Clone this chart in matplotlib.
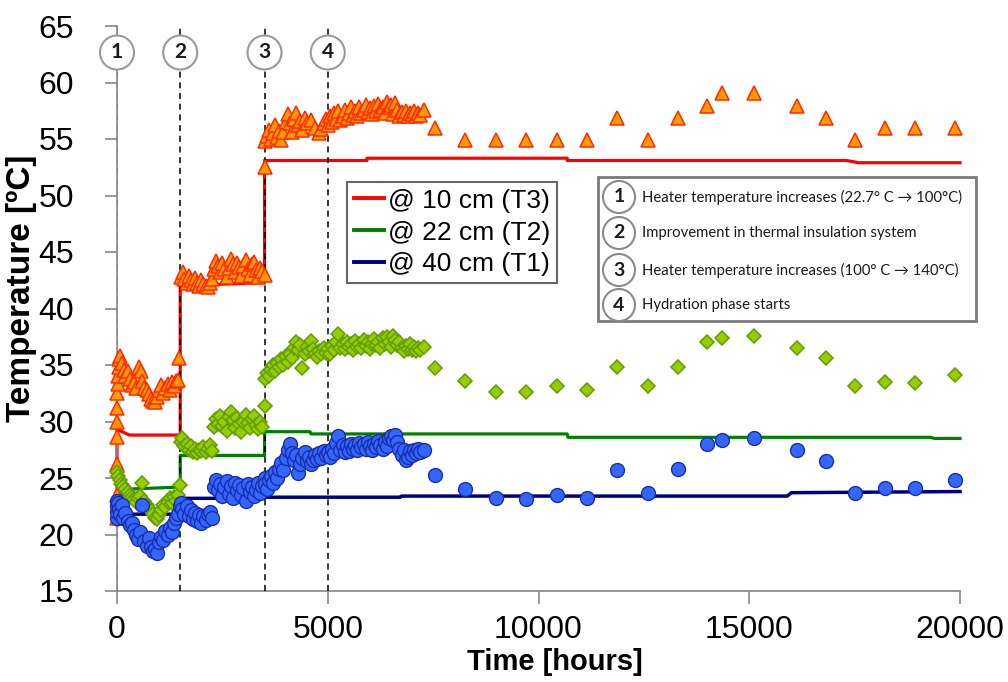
import matplotlib
matplotlib.use("Agg")
import matplotlib.pyplot as plt
from matplotlib.patches import Circle, Rectangle
from matplotlib.lines import Line2D

plt.rcParams['font.family'] = ['Liberation Sans', 'DejaVu Sans']

W, H, DPI = 1008, 682, 100

# ---------------- data ----------------
EVENT_HOURS = [0, 1500, 3500, 5000]
EVENT_NUMS = ["1", "2", "3", "4"]
EVENT_TEXTS = ["Heater temperature increases (22.7° C \u2192 100°C)",
               "Improvement in thermal insulation system",
               "Heater temperature increases (100° C \u2192 140°C)",
               "Hydration phase starts"]
LEGEND_LABELS = ["@ 10 cm (T3)", "@ 22 cm (T2)", "@ 40 cm (T1)"]
X_TICKS = [0, 5000, 10000, 15000, 20000]
Y_TICKS = [15, 20, 25, 30, 35, 40, 45, 50, 55, 60, 65]

# continuous sensor lines
T3_LINE_H = [0, 0, 300, 1500, 1500, 3500, 3500, 5930, 5930, 10680, 10680, 17300, 17600, 20000]
T3_LINE_V = [20.8, 29.3, 28.8, 28.8, 42.0, 42.3, 53.1, 53.1, 53.3, 53.3, 53.1, 53.1, 52.9, 52.9]
T2_LINE_H = [0, 150, 1500, 1500, 3500, 3500, 4580, 4600, 10680, 10700, 19290, 19400, 20000]
T2_LINE_V = [22.5, 24.0, 24.2, 27.0, 27.0, 29.1, 29.1, 28.9, 28.9, 28.6, 28.6, 28.5, 28.5]
T1_LINE_H = [0, 1500, 1500, 3500, 3500, 6720, 6750, 15900, 16000, 20000]
T1_LINE_V = [21.8, 21.8, 23.2, 23.2, 23.3, 23.3, 23.4, 23.4, 23.7, 23.8]

# measured points (hours, temperature)
T3_POINTS = [
    (0, 21.5), (0, 23.5), (0, 26.2), (0, 28.6), (0, 30.0), (0, 31.2), (10, 32.5), (20, 33.3), (30, 34.0),
    (40, 34.8), (50, 35.5), (80, 35.8), (120, 35.2), (160, 34.6), (200, 34.0), (250, 34.5), (300, 33.8),
    (350, 33.2), (400, 33.5), (450, 33.0), (520, 34.8), (560, 34.5), (600, 33.6), (650, 33.0), (700, 32.8),
    (750, 32.4), (800, 32.0), (850, 31.8), (900, 31.7), (950, 32.2), (1000, 32.8), (1050, 33.2), (1100, 32.5),
    (1150, 33.0), (1200, 33.3), (1250, 32.8), (1300, 33.5), (1350, 33.1), (1400, 33.6), (1450, 33.7),
    (1480, 35.6),
    (1520, 42.8), (1560, 43.2), (1600, 42.6), (1650, 42.3), (1700, 42.9), (1750, 42.5), (1800, 42.2),
    (1850, 42.7), (1900, 42.3), (1950, 42.0), (2000, 42.5), (2050, 42.2), (2100, 42.0), (2150, 41.9),
    (2200, 42.3), (2250, 42.6), (2300, 43.5), (2350, 44.2), (2400, 43.8), (2450, 43.2), (2500, 44.0),
    (2550, 43.5), (2600, 42.8), (2650, 43.6), (2700, 44.4), (2750, 43.9), (2800, 43.2), (2850, 44.0),
    (2900, 43.7), (2950, 42.9), (3000, 43.8), (3050, 44.3), (3100, 43.5), (3150, 43.0), (3200, 43.9),
    (3250, 44.1), (3300, 43.4), (3350, 42.8), (3400, 43.6), (3450, 43.3), (3500, 43.0), (3510, 52.5),
    (3520, 54.8), (3560, 55.3), (3600, 55.8), (3650, 55.0), (3700, 55.5), (3750, 56.2), (3800, 55.2),
    (3850, 55.7), (3900, 54.9), (3950, 55.6), (4000, 56.5), (4050, 57.2), (4100, 56.4), (4150, 55.6),
    (4200, 56.8), (4250, 57.3), (4300, 56.2), (4350, 56.6), (4400, 55.8), (4450, 56.9), (4500, 56.4),
    (4600, 56.7), (4700, 56.0), (4800, 55.5), (4850, 55.9), (4900, 56.4), (4950, 56.8), (5000, 56.2),
    (5050, 57.0), (5100, 56.5), (5150, 57.3), (5200, 56.8), (5250, 57.5), (5300, 56.7), (5350, 57.0),
    (5400, 57.6), (5450, 56.9), (5500, 57.3), (5550, 57.8), (5600, 57.1), (5650, 57.5), (5700, 57.0),
    (5750, 57.8), (5800, 57.3), (5850, 57.6), (5900, 58.0), (5950, 57.4), (6000, 57.7), (6050, 57.2),
    (6100, 57.9), (6150, 57.5), (6200, 58.1), (6250, 57.6), (6300, 57.8), (6350, 57.3), (6400, 58.3),
    (6450, 57.8), (6500, 58.0), (6550, 57.2), (6600, 58.2), (6650, 57.6), (6700, 57.0), (6750, 57.4),
    (6800, 57.1), (6850, 57.5), (6900, 57.0), (6950, 57.3), (7000, 57.2), (7050, 57.5), (7100, 57.0),
    (7150, 57.3), (7200, 57.1), (7280, 57.6),
    (7540, 56.0), (8250, 54.9), (8990, 54.9), (9700, 54.9), (10440, 54.9), (11150, 54.9), (11860, 56.9),
    (12600, 54.9), (13310, 56.9), (14000, 57.9), (14350, 59.1), (15110, 59.1), (16130, 57.9), (16820, 56.9),
    (17510, 54.9), (18220, 56.0), (18930, 56.0), (19880, 56.0),
]

T2_POINTS = [
    (0, 25.5), (30, 25.2), (60, 24.8), (100, 24.5), (150, 24.3), (200, 24.0), (250, 23.8), (300, 23.5),
    (350, 23.3), (400, 23.1), (450, 22.9), (500, 23.2), (550, 23.4), (600, 24.6), (650, 23.0), (700, 22.6),
    (750, 22.3), (800, 22.1), (850, 21.8), (900, 21.5), (950, 21.4), (1000, 21.7), (1050, 22.2),
    (1100, 22.6), (1150, 22.4), (1200, 22.9), (1250, 23.2), (1300, 22.8), (1350, 23.3), (1400, 23.0),
    (1450, 23.5), (1490, 24.4),
    (1510, 28.2), (1550, 28.5), (1600, 27.8), (1650, 28.0), (1700, 27.5), (1750, 27.8), (1800, 27.3),
    (1850, 27.6), (1900, 27.2), (1950, 27.5), (2000, 27.4), (2050, 27.7), (2100, 27.3), (2150, 27.6),
    (2200, 27.9), (2250, 27.4), (2300, 29.5), (2350, 30.2), (2400, 29.8), (2450, 30.5), (2500, 29.6),
    (2550, 30.0), (2600, 29.2), (2650, 30.4), (2700, 30.8), (2750, 30.1), (2800, 29.4), (2850, 30.3),
    (2900, 29.8), (2950, 29.1), (3000, 30.0), (3050, 30.6), (3100, 29.9), (3150, 29.4), (3200, 30.2),
    (3250, 30.5), (3300, 29.7), (3350, 29.3), (3400, 30.0), (3450, 29.5), (3500, 31.4),
    (3520, 33.8), (3560, 34.3), (3600, 34.0), (3650, 34.6), (3700, 35.0), (3750, 34.5), (3800, 35.2),
    (3850, 34.8), (3900, 35.5), (3950, 35.0), (4000, 35.8), (4050, 35.3), (4100, 36.0), (4150, 35.6),
    (4200, 36.5), (4250, 37.0), (4300, 36.3), (4350, 36.8), (4400, 34.7), (4450, 36.0), (4500, 36.6),
    (4550, 36.2), (4600, 37.1), (4650, 36.4), (4700, 36.0), (4750, 35.7), (4800, 36.2), (4850, 36.0),
    (4900, 36.5), (4950, 36.1), (5000, 36.4), (5050, 36.0), (5100, 36.7), (5150, 36.3), (5200, 37.0),
    (5250, 37.7), (5300, 36.5), (5350, 36.9), (5400, 36.4), (5450, 37.0), (5500, 36.6), (5550, 36.9),
    (5600, 36.3), (5650, 37.1), (5700, 36.6), (5750, 36.9), (5800, 36.5), (5850, 37.2), (5900, 36.7),
    (5950, 37.0), (6000, 36.4), (6050, 36.9), (6100, 37.3), (6150, 36.8), (6200, 37.0), (6250, 36.5),
    (6300, 37.4), (6350, 36.9), (6400, 37.5), (6450, 37.0), (6500, 36.6), (6550, 37.6), (6600, 37.2),
    (6650, 36.8), (6700, 37.0), (6750, 36.5), (6800, 36.2), (6850, 36.7), (6900, 36.4), (6950, 36.9),
    (7000, 36.3), (7050, 36.6), (7100, 36.2), (7150, 36.5), (7200, 36.3), (7280, 36.6),
    (7540, 34.7), (8250, 33.6), (8990, 32.6), (9700, 32.6), (10440, 33.1), (11150, 32.8), (11860, 34.8),
    (12600, 33.1), (13310, 34.8), (14000, 37.0), (14350, 37.4), (15110, 37.6), (16130, 36.5), (16820, 35.6),
    (17510, 33.1), (18220, 33.5), (18930, 33.4), (19880, 34.1),
]

T1_POINTS = [
    (0, 21.5), (0, 22.0), (0, 22.5), (0, 23.0), (20, 22.8), (50, 22.3), (80, 21.8), (110, 22.6),
    (150, 21.5), (200, 21.9), (250, 21.2), (300, 20.8), (350, 21.0), (400, 20.4), (450, 20.0), (500, 19.6),
    (550, 20.2), (600, 22.6), (650, 19.4), (700, 19.0), (750, 19.7), (800, 18.9), (850, 18.5), (900, 18.7),
    (950, 18.4), (1000, 19.3), (1050, 19.8), (1100, 19.5), (1150, 20.3), (1200, 20.0), (1250, 20.6),
    (1300, 20.2), (1350, 21.0), (1400, 21.5), (1450, 21.8), (1490, 22.5),
    (1510, 22.8), (1550, 22.3), (1600, 21.8), (1650, 22.5), (1700, 21.6), (1750, 22.2), (1800, 21.4),
    (1850, 21.9), (1900, 21.2), (1950, 21.7), (2000, 21.0), (2050, 21.6), (2100, 21.3), (2150, 21.8),
    (2200, 22.0), (2250, 21.5), (2300, 24.2), (2350, 24.8), (2400, 23.9), (2450, 24.5), (2500, 23.4),
    (2550, 24.2), (2600, 24.7), (2650, 23.6), (2700, 24.3), (2750, 23.2), (2800, 24.6), (2850, 23.9),
    (2900, 24.4), (2950, 23.5), (3000, 24.1), (3050, 23.0), (3100, 24.5), (3150, 23.8), (3200, 24.2),
    (3250, 23.4), (3300, 23.9), (3350, 24.6), (3400, 23.7), (3450, 24.3), (3500, 25.0),
    (3520, 24.5), (3560, 24.0), (3600, 24.8), (3650, 25.2), (3700, 24.6), (3750, 25.5), (3800, 25.0),
    (3850, 25.8), (3900, 26.3), (3950, 25.7), (4000, 26.8), (4050, 27.5), (4100, 28.0), (4150, 27.2),
    (4200, 26.6), (4250, 27.0), (4300, 25.4), (4350, 26.2), (4400, 26.8), (4450, 27.3), (4500, 26.5),
    (4550, 26.9), (4600, 26.2), (4650, 26.6), (4700, 27.0), (4750, 26.7), (4800, 27.2), (4850, 26.8),
    (4900, 27.4), (4950, 27.0), (5000, 27.3), (5050, 26.9), (5100, 27.6), (5150, 27.2), (5200, 28.1),
    (5250, 28.7), (5300, 27.5), (5350, 27.9), (5400, 27.3), (5450, 27.8), (5500, 27.4), (5550, 28.0),
    (5600, 27.6), (5650, 27.9), (5700, 27.5), (5750, 28.1), (5800, 27.7), (5850, 28.0), (5900, 27.6),
    (5950, 28.2), (6000, 27.8), (6050, 27.5), (6100, 28.0), (6150, 27.7), (6200, 28.3), (6250, 27.9),
    (6300, 27.6), (6350, 28.2), (6400, 27.8), (6450, 28.5), (6500, 28.7), (6550, 28.4), (6600, 28.8),
    (6650, 28.2), (6700, 27.6), (6750, 27.0), (6800, 27.5), (6850, 26.6), (6900, 26.9), (6950, 27.4),
    (7000, 27.0), (7050, 27.5), (7100, 27.2), (7150, 27.6), (7200, 27.3), (7280, 27.5),
    (7540, 25.3), (8250, 24.0), (8990, 23.2), (9700, 23.1), (10440, 23.5), (11150, 23.2), (11860, 25.7),
    (12600, 23.7), (13310, 25.8), (14000, 28.0), (14350, 28.4), (15110, 28.5), (16130, 27.5), (16820, 26.5),
    (17510, 23.7), (18220, 24.1), (18930, 24.1), (19880, 24.8),
]

# ---------------- figure ----------------
fig = plt.figure(figsize=(W / DPI, H / DPI), dpi=DPI)
fig.patch.set_facecolor('white')

def px(x, y):
    return x / W, 1 - y / H

L, R, T, B = 117, 960, 26, 591
ax = fig.add_axes([L / W, 1 - B / H, (R - L) / W, (B - T) / H])
ax.set_xlim(0, 20000)
ax.set_ylim(15, 65)
ax.set_xticks(X_TICKS)
ax.set_yticks(Y_TICKS)
for s in ['top', 'right']:
    ax.spines[s].set_visible(False)
for s in ['left', 'bottom']:
    ax.spines[s].set_color('#868686')
    ax.spines[s].set_linewidth(1.2)
ax.tick_params(axis='both', direction='out', color='#868686', length=9, width=1.2, labelsize=23)
ax.tick_params(axis='y', pad=22)
ax.tick_params(axis='x', pad=8)

# sensor lines
ax.plot(T3_LINE_H, T3_LINE_V, color='#FF0000', lw=2.3, zorder=2, clip_on=False)
ax.plot(T2_LINE_H, T2_LINE_V, color='#008000', lw=2.3, zorder=2, clip_on=False)
ax.plot(T1_LINE_H, T1_LINE_V, color='#000080', lw=2.5, zorder=2, clip_on=False)

# event lines
for i, h in enumerate(EVENT_HOURS):
    c = '#FF5050' if i == 0 else 'black'
    ax.axvline(h, color=c, lw=1.1, ls=(0, (4, 3)), zorder=3)

# measured points
t3h, t3v = zip(*T3_POINTS)
t2h, t2v = zip(*T2_POINTS)
t1h, t1v = zip(*T1_POINTS)
ax.plot(t3h, t3v, ls='none', marker='^', ms=10, mfc='#FF9A00', mec='#FF2A00', mew=1.1, zorder=4, clip_on=False)
ax.plot(t2h, t2v, ls='none', marker='D', ms=7.5, mfc='#99CC00', mec='#5E9E00', mew=1.1, zorder=5, clip_on=False)
ax.plot(t1h, t1v, ls='none', marker='o', ms=10, mfc='#3366FF', mec='#1A2EA8', mew=1.0, zorder=6, clip_on=False)

# legend
handles = [Line2D([], [], color='#FF0000', lw=2.8),
           Line2D([], [], color='#008000', lw=2.8),
           Line2D([], [], color='#000080', lw=2.8)]
leg = ax.legend(handles, LEGEND_LABELS, loc='upper left', bbox_to_anchor=px(347, 182),
                bbox_transform=fig.transFigure, frameon=True, fancybox=False, fontsize=19,
                handlelength=1.15, handletextpad=0.15, borderpad=0.25, labelspacing=0.3,
                borderaxespad=0)
leg.get_frame().set_edgecolor('#404040')
leg.get_frame().set_linewidth(1.5)
leg.set_zorder(10)

# axis labels
fig.text(*px(22, 288), "Temperature [ºC]", rotation=90, ha='center', va='center',
         fontsize=24, fontweight='bold')
fig.text(*px(555, 662), "Time [hours]", ha='center', va='center', fontsize=21, fontweight='bold')

# top event circles
for h, n in zip(EVENT_HOURS, EVENT_NUMS):
    cx = ax.transData.transform((h, 15))[0]
    cy = 52.5
    fig.add_artist(Circle((cx / DPI, (H - cy) / DPI), 17 / DPI, transform=fig.dpi_scale_trans,
                          facecolor='white', edgecolor='#9a9a9a', lw=1.5, zorder=20))
    fig.text(cx / W, 1 - cy / H, n, ha='center', va='center', fontsize=15, fontweight='bold',
             family=['Lato', 'DejaVu Sans'], color='#1a1a1a', zorder=21)

# annotation box
fig.add_artist(Rectangle((598 / DPI, (H - 321) / DPI), (976 - 598) / DPI, (321 - 177) / DPI,
                         transform=fig.dpi_scale_trans, facecolor='white', edgecolor='#7a7a7a',
                         lw=2, zorder=15))
for n, txt, cy in zip(EVENT_NUMS, EVENT_TEXTS, [197, 233, 270, 305]):
    fig.add_artist(Circle((619 / DPI, (H - cy) / DPI), 16 / DPI, transform=fig.dpi_scale_trans,
                          facecolor='white', edgecolor='#8a8a8a', lw=1.5, zorder=16))
    fig.text(619 / W, 1 - cy / H, n, ha='center', va='center', fontsize=14, fontweight='bold',
             family=['Lato', 'DejaVu Sans'], color='#1a1a1a', zorder=17)
    fig.text(642 / W, 1 - cy / H, txt, ha='left', va='center', fontsize=10.7,
             family=['Lato', 'DejaVu Sans'], color='#1a1a1a', zorder=17)

fig.savefig('out.png', dpi=DPI)
